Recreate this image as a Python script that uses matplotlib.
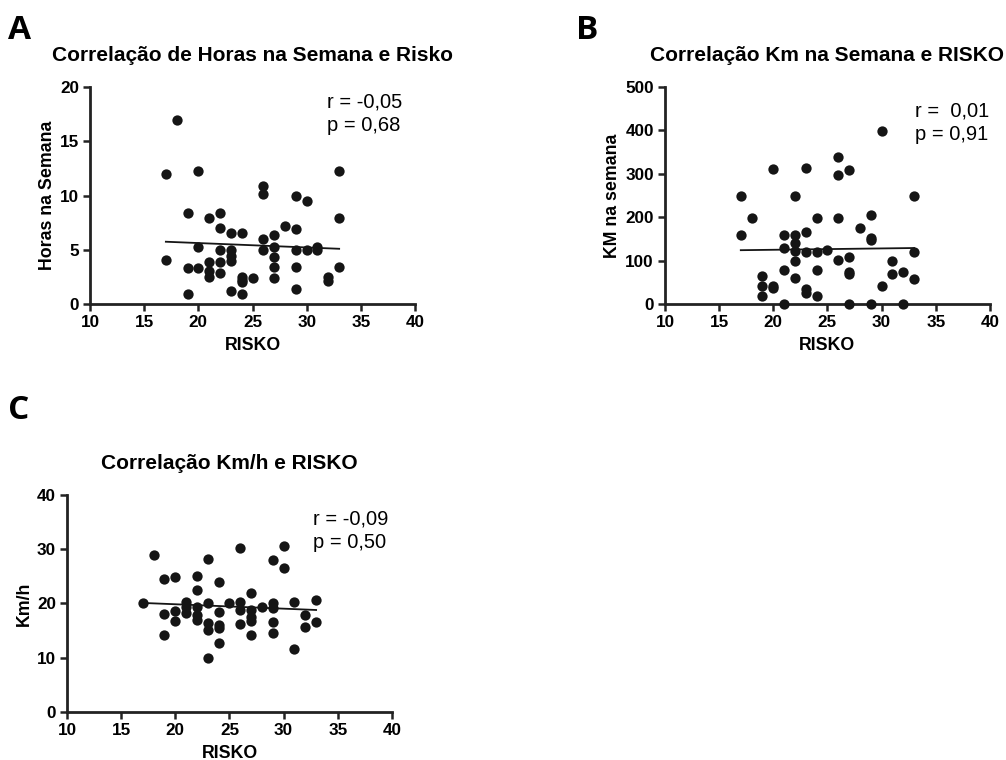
import numpy as np
import matplotlib
matplotlib.use("Agg")
import matplotlib.pyplot as plt

plt.rcParams['font.family'] = ['Liberation Sans', 'DejaVu Sans']

# ---- panel A: horas na semana vs RISKO
risko_a = [17, 17, 18, 19, 19, 19, 20, 20, 20, 21, 21, 21, 21, 22, 22, 22, 22, 22,
           23, 23, 23, 23, 23, 24, 24, 24, 24, 24, 25, 26, 26, 26, 26, 27, 27, 27,
           27, 27, 28, 29, 29, 29, 29, 29, 30, 30, 31, 31, 32, 32, 33, 33, 33]
horas_a = [12.0, 4.1, 17.0, 8.4, 3.3, 0.9, 12.3, 5.3, 3.3, 7.9, 3.9, 3.0, 2.5,
           8.4, 7.0, 5.0, 3.9, 2.9, 6.5, 5.0, 4.4, 4.0, 1.2, 6.5, 2.5, 2.0, 2.2,
           0.9, 2.4, 10.9, 10.1, 6.0, 5.0, 6.35, 5.3, 4.35, 3.4, 2.4, 7.2, 10.0,
           6.9, 5.0, 3.4, 1.4, 9.5, 5.0, 5.3, 5.0, 2.5, 2.1, 12.3, 7.9, 3.4]
fit_a = [5.74, 5.09]

# ---- panel B: km na semana vs RISKO
risko_b = [17, 17, 18, 19, 19, 19, 20, 20, 20, 21, 21, 21, 21, 22, 22, 22, 22, 22,
           22, 23, 23, 23, 23, 23, 24, 24, 24, 24, 25, 26, 26, 26, 26, 27, 27, 27,
           27, 27, 28, 29, 29, 29, 29, 30, 30, 31, 31, 32, 32, 33, 33, 33]
km_b = [248, 158, 198, 65, 42, 18, 310, 42, 38, 158, 128, 79, 0, 248, 158, 140,
        121, 100, 59, 313, 167, 119, 35, 25, 198, 119, 79, 19, 124, 339, 298, 198,
        102, 308, 108, 73, 68, 0, 174, 206, 151, 148, 0, 398, 41, 98, 69, 73, 0,
        248, 119, 58]
fit_b = [124, 129]

# ---- panel C: km/h vs RISKO
risko_c = [17, 18, 19, 19, 19, 20, 20, 20, 21, 21, 21, 22, 22, 22, 22, 22, 23, 23,
           23, 23, 23, 24, 24, 24, 24, 24, 25, 26, 26, 26, 26, 27, 27, 27, 27, 27,
           28, 29, 29, 29, 29, 29, 30, 30, 31, 31, 32, 32, 33, 33]
kmh_c = [20.1, 29.0, 24.6, 18.0, 14.1, 24.8, 18.6, 16.8, 20.3, 19.4, 18.3, 25.0,
         22.5, 19.4, 17.8, 16.9, 28.2, 20.1, 16.4, 15.2, 10.0, 24.0, 18.5, 16.0,
         15.4, 12.7, 20.1, 30.3, 20.3, 18.8, 16.2, 22.0, 18.8, 17.5, 16.8, 14.2,
         19.3, 28.1, 20.0, 19.1, 16.5, 14.5, 30.6, 26.6, 20.3, 11.6, 17.8, 15.6,
         20.7, 16.6]
fit_c = [20.1, 18.8]

fit_x = [17, 33]

panels = [
    dict(letter="A", x=risko_a, y=horas_a, fit=fit_a, ymax=20, yticks=[0, 5, 10, 15, 20],
         title="Correlação de Horas na Semana e Risko", ylabel="Horas na Semana",
         stats="r = -0,05\np = 0,68", pos=[0.0895, 0.6, 0.323, 0.2855],
         letter_xy=(0.008, 0.960), tx=31.9, ty=19.5),
    dict(letter="B", x=risko_b, y=km_b, fit=fit_b, ymax=500, yticks=[0, 100, 200, 300, 400, 500],
         title="Correlação Km na Semana e RISKO", ylabel="KM na semana",
         stats="r =  0,01\np = 0,91", pos=[0.661, 0.6, 0.323, 0.2855],
         letter_xy=(0.573, 0.960), tx=33.1, ty=467),
    dict(letter="C", x=risko_c, y=kmh_c, fit=fit_c, ymax=40, yticks=[0, 10, 20, 30, 40],
         title="Correlação Km/h e RISKO", ylabel="Km/h",
         stats="r = -0,09\np = 0,50", pos=[0.0666, 0.0632, 0.323, 0.2855],
         letter_xy=(0.008, 0.460), tx=32.7, ty=37.3),
]

fig = plt.figure(figsize=(10.06, 7.6), dpi=100)

for p in panels:
    ax = fig.add_axes(p["pos"])
    ax.scatter(p["x"], p["y"], s=55, color="#151515", zorder=3, clip_on=False,
               linewidths=0)
    ax.plot(fit_x, p["fit"], color="#151515", lw=1.3, zorder=2)
    ax.set_xlim(10, 40)
    ax.set_ylim(0, p["ymax"])
    ax.set_xticks([10, 15, 20, 25, 30, 35, 40])
    ax.set_yticks(p["yticks"])
    for s in ("top", "right"):
        ax.spines[s].set_visible(False)
    for s in ("left", "bottom"):
        ax.spines[s].set_linewidth(2.0)
        ax.spines[s].set_color("#222222")
    ax.tick_params(direction="out", length=5, width=1.8, labelsize=12.3, pad=3,
                   color="#222222")
    for lab in ax.get_xticklabels() + ax.get_yticklabels():
        lab.set_fontweight("bold")
    ax.set_xlabel("RISKO", fontsize=12.8, fontweight="bold", labelpad=5)
    ax.set_ylabel(p["ylabel"], fontsize=12.8, fontweight="bold", labelpad=3)
    ax.set_title(p["title"], fontsize=15, fontweight="bold", pad=19)
    ax.text(p["tx"], p["ty"], p["stats"], fontsize=14.5, va="top", ha="left",
            linespacing=1.3)
    fig.text(p["letter_xy"][0], p["letter_xy"][1], p["letter"], fontsize=24,
             fontweight="bold", family="Open Sans", ha="left", va="center")

fig.savefig("out.png", dpi=100)
